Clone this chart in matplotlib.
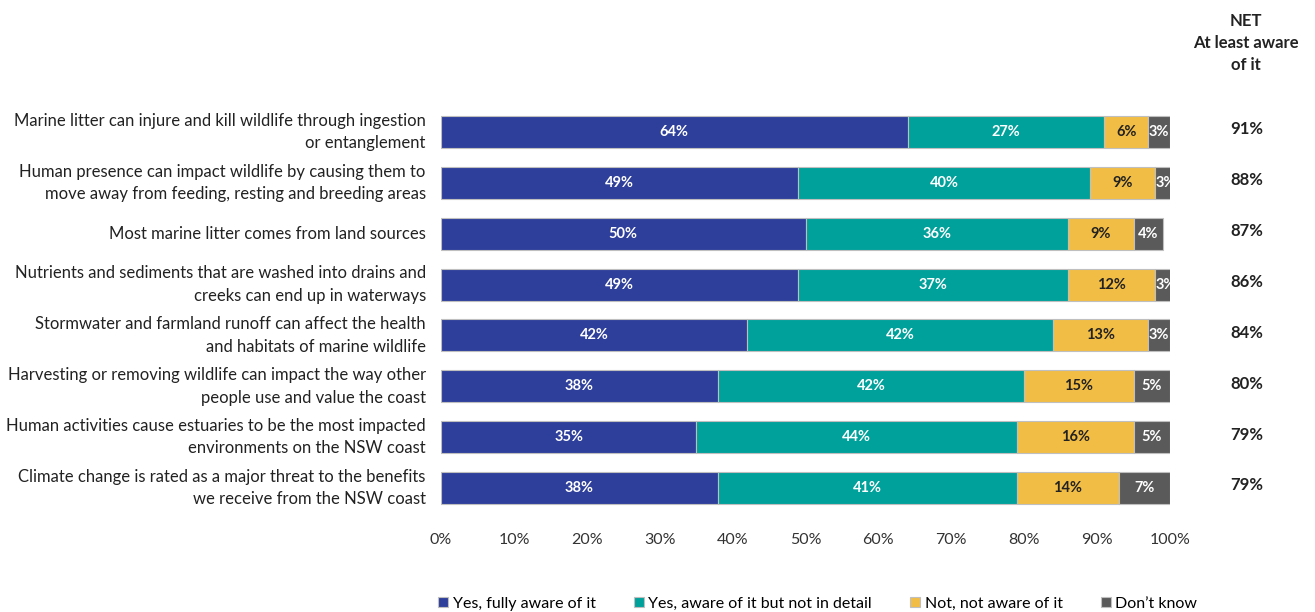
import numpy as np
import matplotlib.pyplot as plt

plt.rcParams['font.family'] = ['Lato', 'DejaVu Sans']

# Awareness statements and response shares (%)
statements = [
    'Marine litter can injure and kill wildlife through ingestion\nor entanglement',
    'Human presence can impact wildlife by causing them to\nmove away from feeding, resting and breeding areas',
    'Most marine litter comes from land sources',
    'Nutrients and sediments that are washed into drains and\ncreeks can end up in waterways',
    'Stormwater and farmland runoff can affect the health\nand habitats of marine wildlife',
    'Harvesting or removing wildlife can impact the way other\npeople use and value the coast',
    'Human activities cause estuaries to be the most impacted\nenvironments on the NSW coast',
    'Climate change is rated as a major threat to the benefits\nwe receive from the NSW coast',
]
fully_aware = [64, 49, 50, 49, 42, 38, 35, 38]
aware_not_detail = [27, 40, 36, 37, 42, 42, 44, 41]
not_aware = [6, 9, 9, 12, 13, 15, 16, 14]
dont_know = [3, 3, 4, 3, 3, 5, 5, 7]
net_aware = [91, 88, 87, 86, 84, 80, 79, 79]

series = [
    ('Yes, fully aware of it', fully_aware, '#2E3F9B', 'white'),
    ('Yes, aware of it but not in detail', aware_not_detail, '#00A19A', 'white'),
    ('Not, not aware of it', not_aware, '#F2BD44', '#222222'),
    ('Don\u2019t know', dont_know, '#5A5A5A', 'white'),
]

fig = plt.figure(figsize=(13.15, 6.12), dpi=100)
ax = fig.add_axes([0.3354, 0.161, 0.5543, 0.665])

y = np.arange(len(statements))
left = np.zeros(len(statements))
for name, vals, color, txt in series:
    vals = np.array(vals, dtype=float)
    ax.barh(y, vals, left=left, height=0.63, color=color,
            edgecolor='#BFBFBF', linewidth=0.8, label=name)
    for yi, l, v in zip(y, left, vals):
        ax.text(l + v / 2, yi, f'{int(v)}%', ha='center', va='center',
                color=txt, fontsize=10.5, fontweight='bold')
    left += vals

ax.set_xlim(0, 100)
ax.set_ylim(len(statements) - 0.5, -0.5)
ax.set_yticks(y)
ax.set_yticklabels(statements, fontsize=12, color='#222222', linespacing=1.5)
for t in ax.get_yticklabels():
    t.set_va('center')
ax.set_xticks(np.arange(0, 101, 10))
ax.set_xticklabels([f'{t}%' for t in range(0, 101, 10)], fontsize=11.5, color='#333333')
ax.tick_params(axis='both', length=0)
ax.tick_params(axis='y', pad=11)
ax.tick_params(axis='x', pad=14)
for s in ax.spines.values():
    s.set_visible(False)

# NET column on the right
for yi, v in zip(y, net_aware):
    ax.text(110.5, yi - 0.05, f'{v}%', ha='center', va='center',
            fontsize=12, fontweight='bold', color='#222222')
fig.text(0.9475, 0.93, 'NET\nAt least aware\nof it', ha='center', va='center',
         fontsize=12, fontweight='bold', color='#222222', linespacing=1.45)

fig.legend(loc='center', bbox_to_anchor=(0.622, 0.013), ncol=4, frameon=False,
           fontsize=11.5, handlelength=0.6, handleheight=0.6, handletextpad=0.3,
           columnspacing=2.4)

fig.savefig('out.png', dpi=100)
